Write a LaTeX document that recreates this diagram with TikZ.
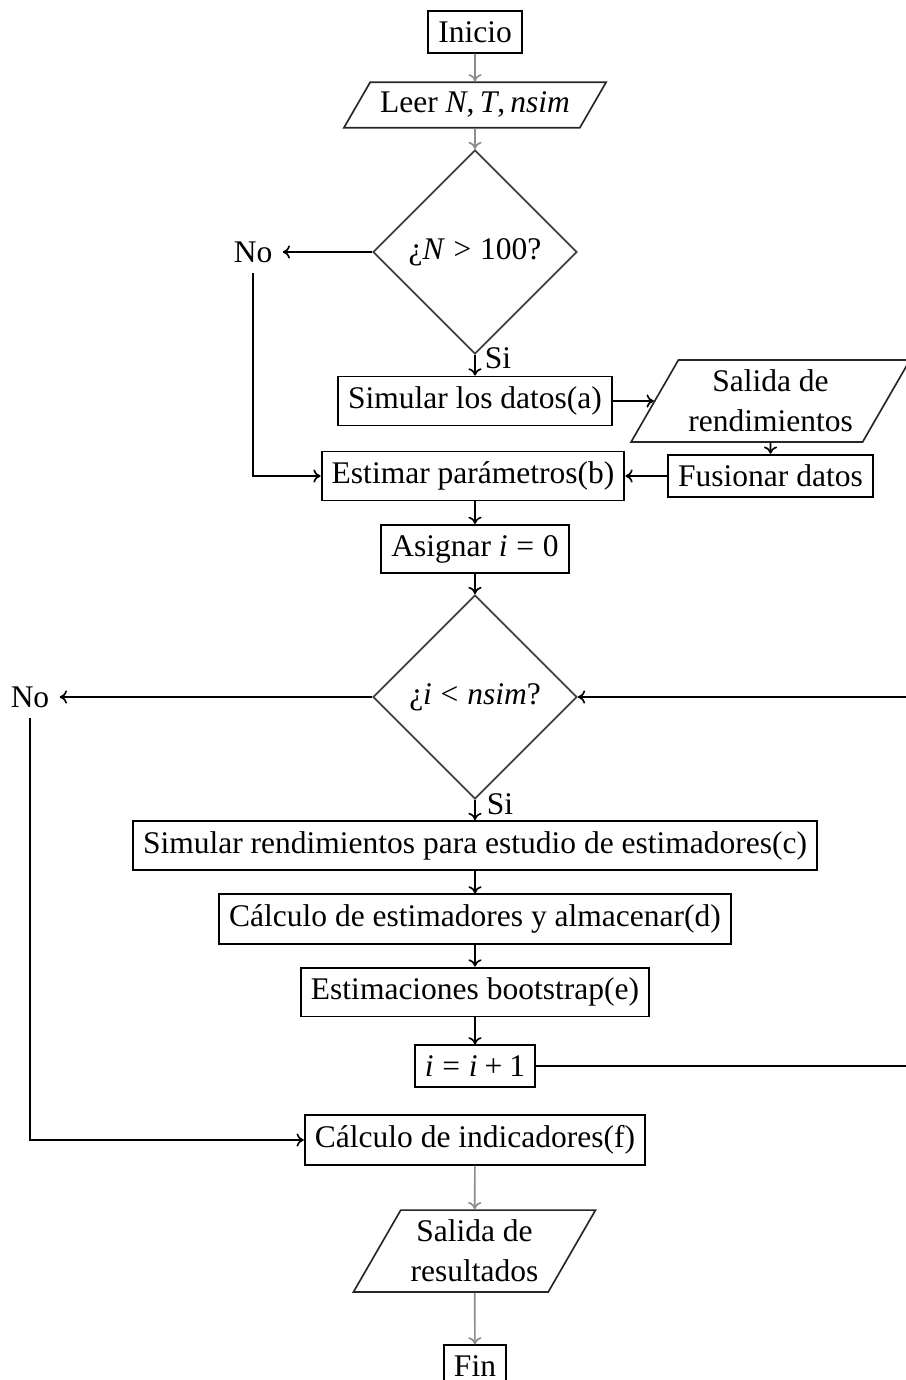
\documentclass[tikz,border=0pt]{standalone}
\usepackage{fontspec}
\setmainfont{Liberation Serif}
\usetikzlibrary{shapes.geometric, arrows.meta}
\begin{document}
\begin{tikzpicture}[x=0.33333pt, y=-0.33333pt,
  font=\fontsize{10.5}{13.3}\selectfont,
  box/.style={draw=black, line width=0.65pt, inner sep=3.4pt},
  io/.style={draw=black!85, line width=0.55pt, trapezium, trapezium left angle=60,
    trapezium right angle=120, inner sep=3.3pt, align=center},
  dec/.style={draw=black!75, line width=0.6pt, diamond, minimum width=68pt,
    minimum height=68pt, inner sep=0pt},
  lbl/.style={inner sep=3.3pt},
  arr/.style={-{To[length=2.4pt,width=4.4pt]}, line width=0.55pt},
  garr/.style={arr, draw=black!45},
  ]
\useasboundingbox (0,0) rectangle (905,1380);
\node[box] (ini) at (475,32) {Inicio};
\node[io] (leer) at (475,105) {Leer \textit{N},\,\textit{T},\,\textit{nsim}};
\node[dec] (d1) at (475,252) {¿\textit{N}\;>\;100?};
\node[lbl] (no1) at (253,252) {No};
\node[lbl] (si1) at (498,358) {Si};
\node[box] (simA) at (475,401) {Simular los datos(a)};
\node[io] (salR) at (770.5,401) {Salida de\\rendimientos};
\node[box] (fus) at (770.5,476) {Fusionar datos};
\node[box] (est) at (473,476) {Estimar parámetros(b)};
\node[box] (asi) at (475,549) {Asignar \textit{i}\;=\;0};
\node[dec] (d2) at (475,697) {¿\textit{i}\;<\;\textit{nsim}?};
\node[lbl] (no2) at (30,697) {No};
\node[lbl] (si2) at (500,804) {Si};
\node[box] (simC) at (475,845.5) {Simular rendimientos para estudio de estimadores(c)};
\node[box] (calE) at (475,919) {Cálculo de estimadores y almacenar(d)};
\node[box] (boot) at (475,992) {Estimaciones bootstrap(e)};
\node[box] (inc) at (475,1066) {\textit{i}\;=\;\textit{i}\:+\:1};
\node[box] (calI) at (475,1140) {Cálculo de indicadores(f)};
\node[io] (salRes) at (474.5,1251) {Salida de\\resultados};
\node[box] (fin) at (475,1366) {Fin};
\coordinate (rt) at (909,1066);

\draw[garr] (ini) -- (leer);
\draw[garr] (leer) -- (d1);
\draw[arr] (d1) -- (no1);
\draw[arr] (no1) |- (est);
\draw[arr] (d1) -- (simA);
\draw[arr] (simA) -- (salR);
\draw[arr] (salR) -- (fus);
\draw[arr] (fus) -- (est);
\draw[arr] (asi |- est.south) -- (asi);
\draw[arr] (asi) -- (d2);
\draw[arr] (d2) -- (no2);
\draw[arr] (no2) |- (calI);
\draw[arr] (d2) -- (simC);
\draw[arr] (simC) -- (calE);
\draw[arr] (calE) -- (boot);
\draw[arr] (boot) -- (inc);
\draw[arr] (inc.east) -- (rt) |- (d2.east);
\draw[garr] (calI) -- (salRes);
\draw[garr] (salRes) -- (fin);
\end{tikzpicture}
\end{document}
